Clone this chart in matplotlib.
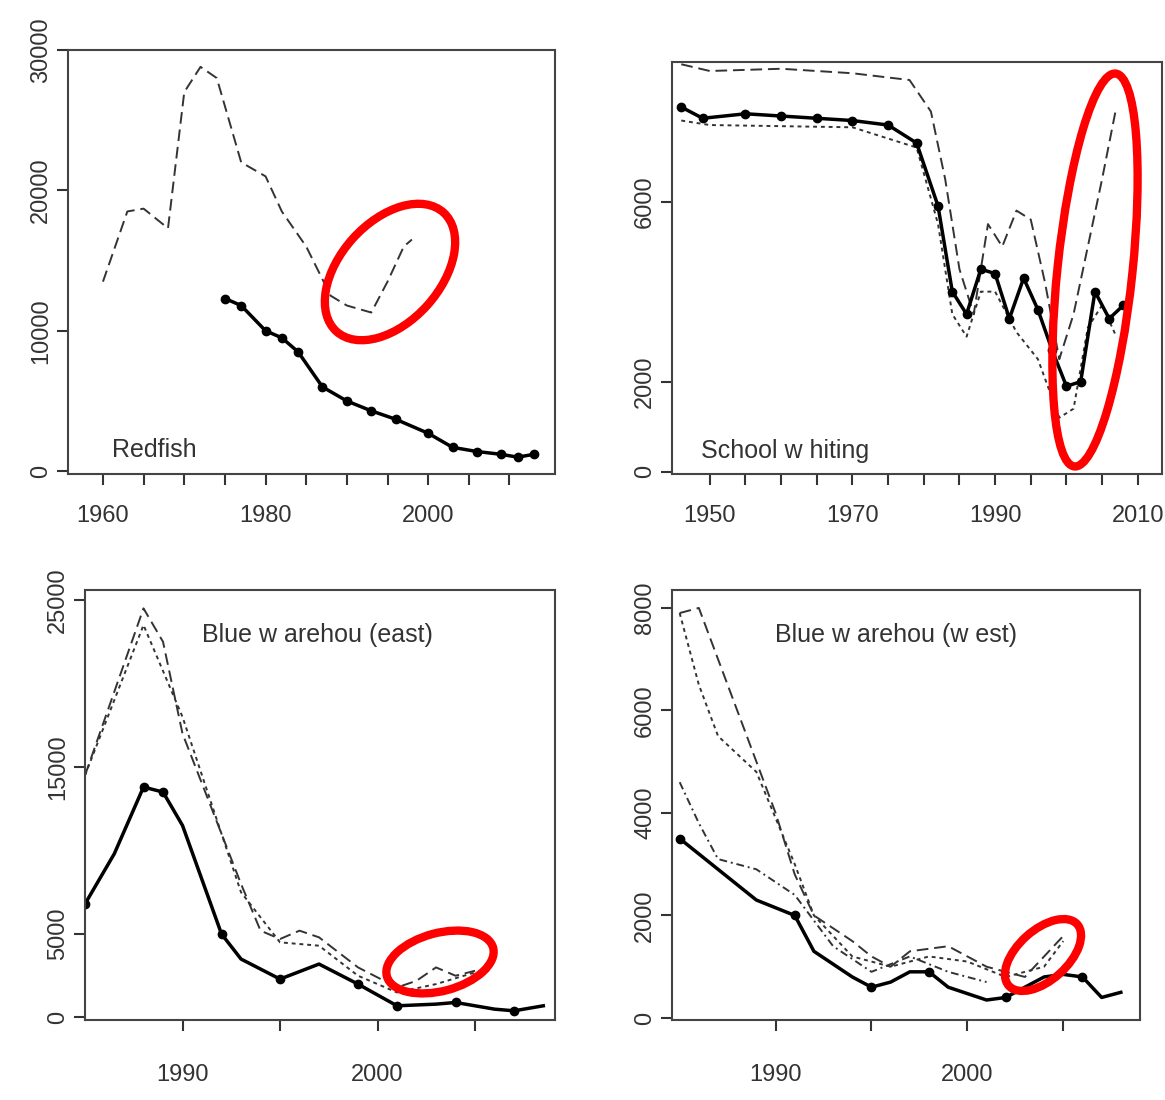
import matplotlib
matplotlib.use("Agg")
import matplotlib.pyplot as plt
from matplotlib.patches import Ellipse
from matplotlib.transforms import IdentityTransform

plt.rcParams["font.family"] = ["Liberation Sans", "DejaVu Sans"]

# --- DATA ---
red_dash_yr = [1960, 1963, 1965, 1968, 1970, 1972, 1974, 1977, 1980, 1982, 1985, 1988, 1990, 1993, 1995, 1997, 1998]
red_dash = [13500, 18500, 18700, 17300, 27000, 28800, 28000, 22000, 21000, 18500, 16000, 12500, 11800, 11300, 13500, 16000, 16500]
red_sol_yr = [1975, 1977, 1980, 1982, 1984, 1987, 1990, 1993, 1996, 2000, 2003, 2006, 2009, 2011, 2013]
red_sol = [12300, 11800, 10000, 9500, 8500, 6000, 5000, 4300, 3700, 2700, 1700, 1400, 1200, 1000, 1200]

sw_dash_yr = [1946, 1950, 1960, 1970, 1978, 1981, 1983, 1985, 1987, 1989, 1991, 1993, 1995, 1997, 1999, 2001, 2003, 2005, 2007]
sw_dash = [9050, 8900, 8950, 8850, 8700, 8000, 6500, 4500, 3500, 5500, 5000, 5800, 5600, 4200, 2500, 3500, 5000, 6500, 8100]
sw_sol_yr = [1946, 1949, 1955, 1960, 1965, 1970, 1975, 1979, 1982, 1984, 1986, 1988, 1990, 1992, 1994, 1996, 1998, 2000, 2002, 2004, 2006, 2008]
sw_sol = [8100, 7850, 7950, 7900, 7850, 7800, 7700, 7300, 5900, 4000, 3500, 4500, 4400, 3400, 4300, 3600, 2700, 1900, 2000, 4000, 3400, 3700]
sw_dot_yr = [1946, 1950, 1970, 1979, 1982, 1984, 1986, 1988, 1990, 1993, 1996, 1999, 2001, 2003, 2005, 2007]
sw_dot = [7800, 7700, 7650, 7200, 5500, 3500, 3000, 4000, 4000, 3100, 2500, 1200, 1400, 3200, 3700, 3000]

bwe_dash_yr = [1985, 1986.5, 1988, 1989, 1990, 1991, 1993, 1994, 1995, 1996, 1997, 1999, 2001, 2002, 2003, 2004, 2005]
bwe_dash = [14500, 19500, 24500, 22500, 17000, 14000, 8000, 5200, 4700, 5200, 4800, 3000, 1800, 2200, 3000, 2500, 2800]
bwe_dot_yr = [1985, 1988, 1990, 1993, 1995, 1997, 1999, 2001, 2003, 2005]
bwe_dot = [14500, 23500, 18000, 7500, 4500, 4300, 2500, 1500, 2000, 2700]
bwe_sol_yr = [1985, 1986.5, 1988, 1989, 1990, 1992, 1993, 1995, 1997, 1999, 2001, 2003, 2004, 2006, 2007, 2008.5]
bwe_sol = [6800, 9800, 13800, 13500, 11500, 5000, 3500, 2300, 3200, 2000, 700, 800, 900, 500, 400, 700]
bwe_pts_yr = [1985, 1988, 1989, 1992, 1995, 1999, 2001, 2004, 2007]
bwe_pts = [6800, 13800, 13500, 5000, 2300, 2000, 700, 900, 400]

bww_dash_yr = [1985, 1986, 1987, 1988, 1990, 1991, 1992, 1994, 1995, 1996, 1997, 1999, 2001, 2003, 2004, 2005]
bww_dash = [7900, 8000, 7000, 6000, 4000, 2800, 2000, 1500, 1200, 1000, 1300, 1400, 1000, 800, 1200, 1600]
bww_dot_yr = [1985, 1986, 1987, 1989, 1991, 1992, 1994, 1996, 1998, 2000, 2002, 2004, 2005]
bww_dot = [7900, 6500, 5500, 4800, 3000, 2000, 1200, 1000, 1200, 1100, 800, 1000, 1500]
bww_dot2_yr = [1985, 1986, 1987, 1989, 1991, 1993, 1995, 1997, 1999, 2001]
bww_dot2 = [4600, 3800, 3100, 2900, 2400, 1400, 900, 1200, 900, 700]
bww_sol_yr = [1985, 1987, 1989, 1991, 1992, 1994, 1995, 1996, 1997, 1998, 1999, 2001, 2002, 2004, 2005, 2006, 2007, 2008]
bww_sol = [3500, 2900, 2300, 2000, 1300, 800, 600, 700, 900, 900, 600, 350, 400, 800, 850, 800, 400, 500]

W, H = 1165, 1100
fig = plt.figure(figsize=(W / 100, H / 100), dpi=100)
FS = 17


def make_ax(l, t, r, b):
    ax = fig.add_axes([l / W, 1 - b / H, (r - l) / W, (b - t) / H])
    ax.tick_params(direction="out", labelsize=FS, length=8, width=1.5, colors="#333333")
    for s in ax.spines.values():
        s.set_linewidth(1.5)
        s.set_color("#444444")
    return ax


def finish(ax):
    for lab in ax.get_yticklabels():
        lab.set_rotation(90)
        lab.set_va("center")


sk = dict(color="black", lw=2.5)
mk = dict(color="black", marker="o", ms=6, lw=2.5)
dk = dict(color="#333333", lw=1.4, dashes=(6, 3))
ok = dict(color="#333333", lw=1.4, dashes=(2, 2))

# Redfish
ax = make_ax(68, 50, 555, 474)
ax.plot(red_dash_yr, red_dash, **dk)
ax.plot(red_sol_yr, red_sol, **mk)
ax.set_xlim(1955.7, 2015.6)
ax.set_ylim(-200, 30000)
ax.set_yticks([0, 10000, 20000, 30000])
ax.set_xticks([1960, 1965, 1970, 1975, 1980, 1985, 1990, 1995, 2000, 2005, 2010])
ax.set_xticklabels(["1960", "", "", "", "1980", "", "", "", "2000", "", ""])
ax.tick_params(axis="x", pad=14)
ax.text(0.09, 0.04, "Redfish", transform=ax.transAxes, fontsize=FS + 1, color="#333333")
finish(ax)

# School whiting
ax = make_ax(672, 62, 1162, 474)
ax.plot(sw_dash_yr, sw_dash, **dk)
ax.plot(sw_dot_yr, sw_dot, **ok)
ax.plot(sw_sol_yr, sw_sol, **mk)
ax.set_xlim(1944.7, 2013.4)
ax.set_ylim(-50, 9100)
ax.set_yticks([0, 2000, 6000])
ax.set_xticks(range(1950, 2011, 5))
ax.set_xticklabels([str(y) if y % 20 == 10 else "" for y in range(1950, 2011, 5)])
ax.tick_params(axis="x", pad=14)
ax.text(0.06, 0.04, "School w hiting", transform=ax.transAxes, fontsize=FS + 1, color="#333333")
finish(ax)

# Blue warehou (east)
ax = make_ax(85, 590, 555, 1020)
ax.plot(bwe_dash_yr, bwe_dash, **dk)
ax.plot(bwe_dot_yr, bwe_dot, **ok)
ax.plot(bwe_sol_yr, bwe_sol, **sk)
ax.plot(bwe_pts_yr, bwe_pts, "o", color="black", ms=6)
ax.set_xlim(1985, 2009.1)
ax.set_ylim(-150, 25600)
ax.set_yticks([0, 5000, 15000, 25000])
ax.set_xticks([1990, 1995, 2000, 2005])
ax.set_xticklabels(["1990", "", "2000", ""])
ax.tick_params(axis="x", pad=24)
ax.text(0.25, 0.88, "Blue w arehou (east)", transform=ax.transAxes, fontsize=FS + 1, color="#333333")
finish(ax)

# Blue warehou (west)
ax = make_ax(672, 590, 1140, 1020)
ax.plot(bww_dash_yr, bww_dash, **dk)
ax.plot(bww_dot_yr, bww_dot, **ok)
ax.plot(bww_dot2_yr, bww_dot2, color="#333333", lw=1.4, dashes=(4, 2, 1, 2))
ax.plot(bww_sol_yr, bww_sol, **sk)
ax.plot(bww_sol_yr[::3], bww_sol[::3], "o", color="black", ms=6)
ax.set_xlim(1984.6, 2009)
ax.set_ylim(-40, 8350)
ax.set_yticks([0, 2000, 4000, 6000, 8000])
ax.set_xticks([1990, 1995, 2000, 2005])
ax.set_xticklabels(["1990", "", "2000", ""])
ax.tick_params(axis="x", pad=24)
ax.text(0.22, 0.88, "Blue w arehou (w est)", transform=ax.transAxes, fontsize=FS + 1, color="#333333")
finish(ax)

# red highlight ellipses (pixel coords)
for cx, cy, w, h, a in [(390, 272, 160, 100, 48), (1095, 270, 75, 395, -6),
                        (440, 962, 110, 58, 15), (1043, 955, 92, 50, 42)]:
    fig.patches.append(Ellipse((cx, H - cy), w, h, angle=a, fill=False, ec="red",
                               lw=6, transform=IdentityTransform(), figure=fig))

fig.savefig("out.png", dpi=100)
